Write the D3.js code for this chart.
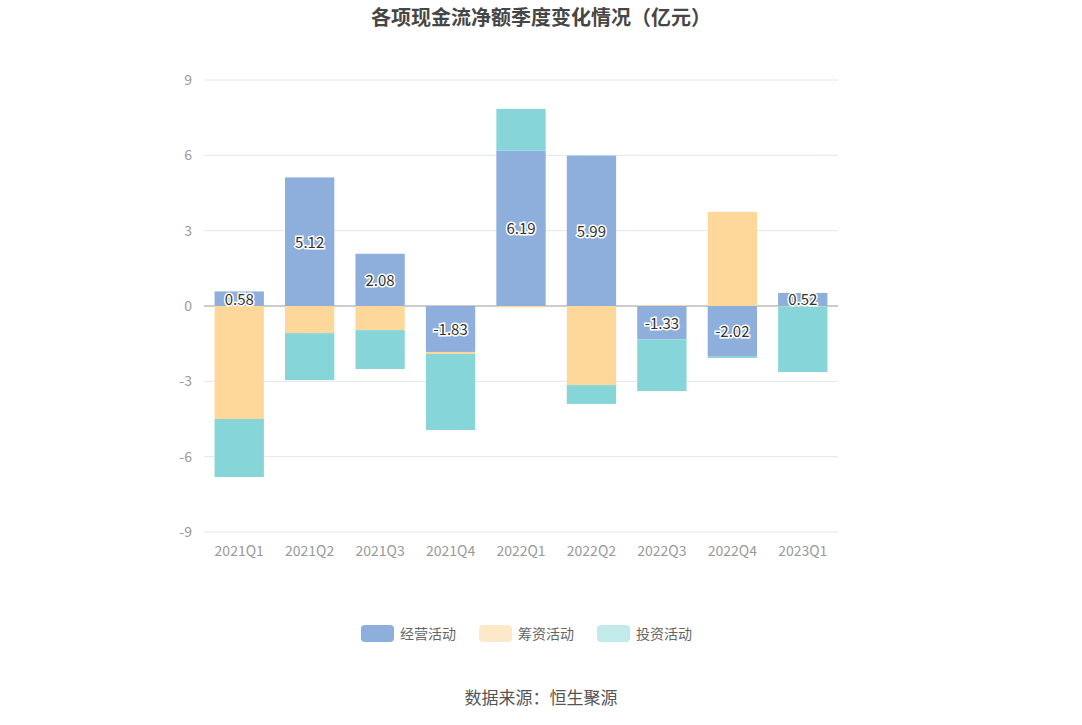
<!DOCTYPE html>
<html><head><meta charset="utf-8">
<script src="https://cdn.jsdelivr.net/npm/d3@7/dist/d3.min.js"></script>
<style>body{margin:0;background:#fff;font-family:"Noto Sans CJK SC","Noto Sans",sans-serif;}</style>
</head><body><svg id="c" width="1082" height="725"></svg>
<script>
const categories=["2021Q1","2021Q2","2021Q3","2021Q4","2022Q1","2022Q2","2022Q3","2022Q4","2023Q1"];
const operating=[0.58,5.12,2.08,-1.83,6.19,5.99,-1.33,-2.02,0.52];
const financing=[-4.50,-1.08,-0.96,-0.08,-0.05,-3.15,0.03,3.75,-0.02];
const investing=[-2.31,-1.87,-1.55,-3.03,1.66,-0.75,-2.06,-0.05,-2.61];
const seriesNames=["经营活动","筹资活动","投资活动"];
const colors=["#8eaedb","#fdd89a","#86d6d9"];
const legendColors=["#8eaedb","#fde9c9","#c2eaeb"];
const yTicks=[-9,-6,-3,0,3,6,9];

const svg=d3.select("#c");
const x=d3.scaleBand().domain(categories).range([204,838]).paddingInner(0.3).paddingOuter(0.15);
const y=d3.scaleLinear().domain([-9,9]).range([532,80]);
svg.append("text").attr("x",541).attr("y",25).attr("text-anchor","middle").attr("font-size",20).attr("font-weight","bold").attr("fill","#464646").text("各项现金流净额季度变化情况（亿元）");
const ga=svg.append("g");
yTicks.forEach(t=>{
 ga.append("line").attr("x1",204).attr("x2",838).attr("y1",y(t)).attr("y2",y(t)).attr("stroke",t===0?"#999":"#e0e6f1");
 ga.append("text").attr("x",192).attr("y",y(t)+5).attr("text-anchor","end").attr("font-size",14).attr("fill","#999").text(t);
});
categories.forEach(c=>{
 svg.append("text").attr("x",x(c)+x.bandwidth()/2).attr("y",556).attr("text-anchor","middle").attr("font-size",14).attr("fill","#999").text(c);
});
const all=[operating,financing,investing];
categories.forEach((c,i)=>{
 let pos=0,neg=0;
 all.forEach((s,k)=>{
  const v=s[i];let y0,y1;
  if(v>=0){y0=pos;y1=pos+v;pos=y1;}else{y0=neg;y1=neg+v;neg=y1;}
  svg.append("rect").attr("x",x(c)).attr("width",x.bandwidth()).attr("y",y(Math.max(y0,y1))).attr("height",Math.abs(y(y0)-y(y1))).attr("fill",colors[k]);
 });
});
categories.forEach((c,i)=>{
 const v=operating[i];
 svg.append("text").attr("x",x(c)+x.bandwidth()/2).attr("y",y(v/2)+6).attr("text-anchor","middle").attr("font-size",15)
  .attr("fill","#333").attr("stroke","#fff").attr("stroke-width",3).attr("paint-order","stroke").text(v.toFixed(2));
});
const lx=[361,479,597];
seriesNames.forEach((n,k)=>{
 svg.append("rect").attr("x",lx[k]).attr("y",625).attr("width",33).attr("height",17).attr("rx",4).attr("fill",legendColors[k]);
 svg.append("text").attr("x",lx[k]+39).attr("y",639).attr("font-size",14).attr("fill","#666").text(n);
});
svg.append("text").attr("x",541).attr("y",704).attr("text-anchor","middle").attr("font-size",17).attr("fill","#555").text("数据来源：恒生聚源");
</script></body></html>
